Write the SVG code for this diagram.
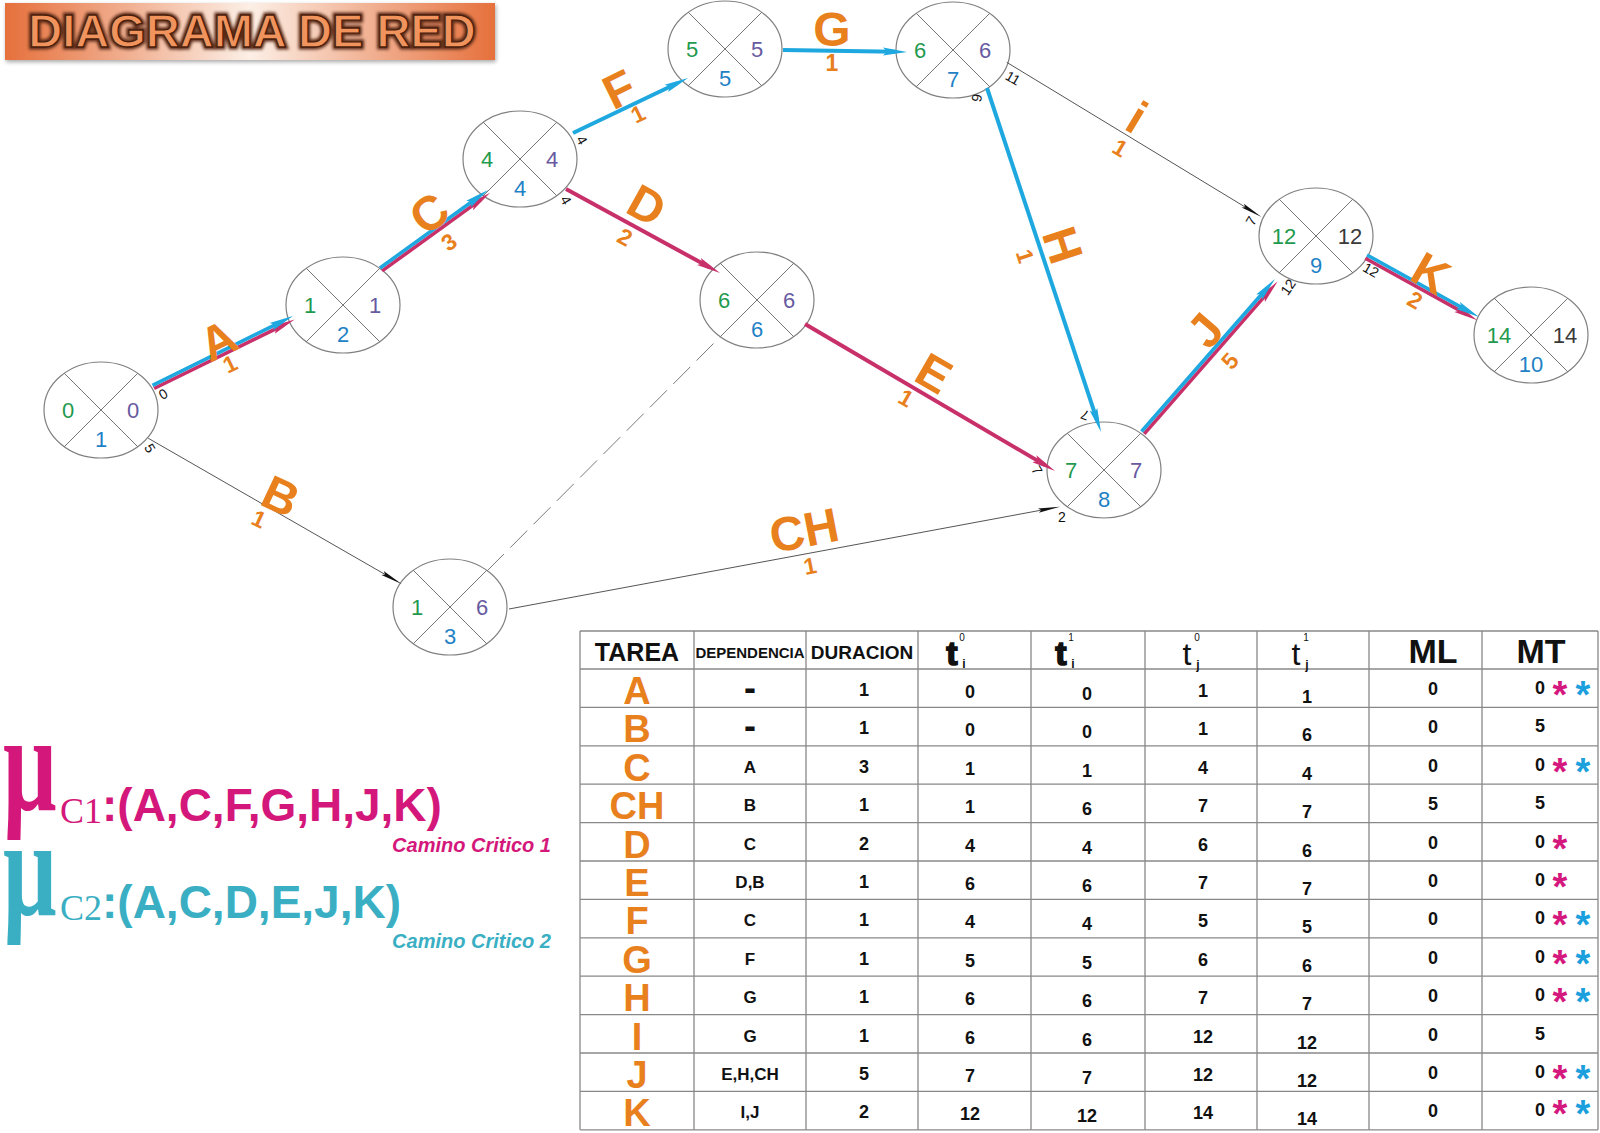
<svg xmlns="http://www.w3.org/2000/svg" width="1600" height="1133" viewBox="0 0 1600 1133">
<defs>
<linearGradient id="bn" x1="0" y1="0" x2="1" y2="0">
<stop offset="0" stop-color="#e6703c"/>
<stop offset="0.5" stop-color="#fcefe6"/>
<stop offset="1" stop-color="#e6703c"/>
</linearGradient>
<filter id="sh" x="-5%" y="-20%" width="110%" height="150%">
<feGaussianBlur in="SourceAlpha" stdDeviation="2"/>
<feOffset dx="1" dy="2" result="o"/>
<feComponentTransfer><feFuncA type="linear" slope="0.35"/></feComponentTransfer>
<feMerge><feMergeNode/><feMergeNode in="SourceGraphic"/></feMerge>
</filter>
<filter id="blur" x="-10%" y="-30%" width="120%" height="160%"><feGaussianBlur stdDeviation="1.6"/></filter>
<marker id="ac" markerUnits="userSpaceOnUse" markerWidth="26" markerHeight="12" refX="12" refY="6" orient="auto" overflow="visible"><path d="M0,2 L24,6 L0,10 L4,6 Z" fill="#1ea8df"/></marker>
<marker id="am" markerUnits="userSpaceOnUse" markerWidth="26" markerHeight="12" refX="12" refY="6" orient="auto" overflow="visible"><path d="M0,2 L24,6 L0,10 L4,6 Z" fill="#c8306a"/></marker>
<marker id="ak" markerUnits="userSpaceOnUse" markerWidth="24" markerHeight="12" refX="12" refY="6" orient="auto" overflow="visible"><path d="M0,3.8 L22,6 L0,8.2 L3,6 Z" fill="#111"/></marker>
</defs>
<style>
text{font-family:"Liberation Sans",Arial,sans-serif}
.nd ellipse{fill:#fff;stroke:#808080;stroke-width:1.2}
.nd line{stroke:#666;stroke-width:0.9}
.nd text{font-size:22px;text-anchor:middle}
.g{fill:#1f9a4e}.p{fill:#675aa0}.b{fill:#1f82c6}.k{fill:#3a3a3a}
.lbl{font-weight:bold;fill:#e8801e;text-anchor:middle}
.L{font-size:48px}.N{font-size:23px}
.sm{font-size:14px;fill:#111;text-anchor:middle}
.cy{stroke:#1ea8df;stroke-width:3.6;fill:none}
.mg{stroke:#c8306a;stroke-width:3.6;fill:none}
.cy1{stroke:#1ea8df;stroke-width:4;fill:none}
.mg1{stroke:#c8306a;stroke-width:4;fill:none}
.thin{stroke:#555;stroke-width:1;fill:none}
.dash{stroke:#7a7a7a;stroke-width:1;stroke-dasharray:24 9;fill:none}
.tl{stroke:#888;stroke-width:1.3}
.th{font-weight:bold;fill:#111;text-anchor:middle}
.thn{font-weight:normal;fill:#111;text-anchor:middle}
.v{font-weight:bold;font-size:18px;fill:#111;text-anchor:middle}
.dp{font-weight:bold;font-size:17px;fill:#111;text-anchor:middle}
.dash-t{font-weight:bold;font-size:36px;fill:#111;text-anchor:middle}
.tk{font-weight:bold;font-size:38px;fill:#e8801e;text-anchor:middle}
.am{font-weight:bold;font-size:38px;fill:#d4187e;text-anchor:middle}
.ac{font-weight:bold;font-size:38px;fill:#1ba0dd;text-anchor:middle}
.ttl{font-weight:bold;font-size:47px;text-anchor:middle}
.mu{font-family:"Liberation Serif","Times New Roman",serif;font-weight:bold;font-size:90px}
.sub{font-family:"Liberation Serif","Times New Roman",serif;font-size:36px}
</style>
<rect width="1600" height="1133" fill="#fff"/>

<g id="title">
<rect x="5" y="3" width="490" height="57" fill="url(#bn)" filter="url(#sh)"/>
<text x="252" y="47" class="ttl" fill="none" stroke="#5b2a12" stroke-width="5" filter="url(#blur)">DIAGRAMA DE RED</text>
<text x="252" y="47" class="ttl" fill="#f0935c" stroke="#4a200c" stroke-width="1.3">DIAGRAMA DE RED</text>
</g>

<g id="n0" class="nd" transform="translate(101,410)"><ellipse rx="57" ry="48"/><line x1="-36.7" y1="-36.7" x2="36.7" y2="36.7"/><line x1="-36.7" y1="36.7" x2="36.7" y2="-36.7"/><text x="-33" y="8" class="g">0</text><text x="32" y="8" class="p">0</text><text x="0" y="37" class="b">1</text></g>
<g id="n1" class="nd" transform="translate(343,305)"><ellipse rx="57" ry="48"/><line x1="-36.7" y1="-36.7" x2="36.7" y2="36.7"/><line x1="-36.7" y1="36.7" x2="36.7" y2="-36.7"/><text x="-33" y="8" class="g">1</text><text x="32" y="8" class="p">1</text><text x="0" y="37" class="b">2</text></g>
<g id="n2" class="nd" transform="translate(520,159)"><ellipse rx="57" ry="48"/><line x1="-36.7" y1="-36.7" x2="36.7" y2="36.7"/><line x1="-36.7" y1="36.7" x2="36.7" y2="-36.7"/><text x="-33" y="8" class="g">4</text><text x="32" y="8" class="p">4</text><text x="0" y="37" class="b">4</text></g>
<g id="n3" class="nd" transform="translate(725,49)"><ellipse rx="57" ry="48"/><line x1="-36.7" y1="-36.7" x2="36.7" y2="36.7"/><line x1="-36.7" y1="36.7" x2="36.7" y2="-36.7"/><text x="-33" y="8" class="g">5</text><text x="32" y="8" class="p">5</text><text x="0" y="37" class="b">5</text></g>
<g id="n4" class="nd" transform="translate(953,50)"><ellipse rx="57" ry="48"/><line x1="-36.7" y1="-36.7" x2="36.7" y2="36.7"/><line x1="-36.7" y1="36.7" x2="36.7" y2="-36.7"/><text x="-33" y="8" class="g">6</text><text x="32" y="8" class="p">6</text><text x="0" y="37" class="b">7</text></g>
<g id="n5" class="nd" transform="translate(757,300)"><ellipse rx="57" ry="48"/><line x1="-36.7" y1="-36.7" x2="36.7" y2="36.7"/><line x1="-36.7" y1="36.7" x2="36.7" y2="-36.7"/><text x="-33" y="8" class="g">6</text><text x="32" y="8" class="p">6</text><text x="0" y="37" class="b">6</text></g>
<g id="n6" class="nd" transform="translate(450,607)"><ellipse rx="57" ry="48"/><line x1="-36.7" y1="-36.7" x2="36.7" y2="36.7"/><line x1="-36.7" y1="36.7" x2="36.7" y2="-36.7"/><text x="-33" y="8" class="g">1</text><text x="32" y="8" class="p">6</text><text x="0" y="37" class="b">3</text></g>
<g id="n7" class="nd" transform="translate(1104,470)"><ellipse rx="57" ry="48"/><line x1="-36.7" y1="-36.7" x2="36.7" y2="36.7"/><line x1="-36.7" y1="36.7" x2="36.7" y2="-36.7"/><text x="-33" y="8" class="g">7</text><text x="32" y="8" class="p">7</text><text x="0" y="37" class="b">8</text></g>
<g id="n8" class="nd" transform="translate(1316,236)"><ellipse rx="57" ry="48"/><line x1="-36.7" y1="-36.7" x2="36.7" y2="36.7"/><line x1="-36.7" y1="36.7" x2="36.7" y2="-36.7"/><text x="-32" y="8" class="g">12</text><text x="34" y="8" class="k">12</text><text x="0" y="37" class="b">9</text></g>
<g id="n9" class="nd" transform="translate(1531,335)"><ellipse rx="57" ry="48"/><line x1="-36.7" y1="-36.7" x2="36.7" y2="36.7"/><line x1="-36.7" y1="36.7" x2="36.7" y2="-36.7"/><text x="-32" y="8" class="g">14</text><text x="34" y="8" class="k">14</text><text x="0" y="37" class="b">10</text></g>

<g id="connectors">
<line class="dash" x1="487" y1="571" x2="720" y2="337"/>
<line class="thin" x1="148.3" y1="438.3" x2="393" y2="579" marker-end="url(#ak)"/>
<line class="thin" x1="1006.7" y1="62.3" x2="1253" y2="211.8" marker-end="url(#ak)"/>
<line class="thin" x1="509" y1="609" x2="1050.2" y2="508.5" marker-end="url(#ak)"/>
<line class="mg" x1="154.1" y1="388.5" x2="283.8" y2="324.8" marker-end="url(#am)"/>
<line class="cy" x1="152.5" y1="385.3" x2="282.2" y2="321.3" marker-end="url(#ac)"/>
<line class="mg" x1="382.1" y1="270.9" x2="480.4" y2="199.9" marker-end="url(#am)"/>
<line class="cy" x1="380" y1="268" x2="478.3" y2="197" marker-end="url(#ac)"/>
<line class="mg1" x1="566" y1="189" x2="709.5" y2="267.3" marker-end="url(#am)"/>
<line class="cy1" x1="573" y1="133" x2="677.2" y2="83.2" marker-end="url(#ac)"/>
<line class="cy1" x1="783" y1="50" x2="895" y2="51.8" marker-end="url(#ac)"/>
<line class="cy1" x1="987" y1="88" x2="1097.2" y2="420.6" marker-end="url(#ac)"/>
<line class="mg1" x1="805" y1="324" x2="1044.7" y2="464.9" marker-end="url(#am)"/>
<line class="mg" x1="1144.2" y1="433.9" x2="1269.8" y2="290.4" marker-end="url(#am)"/>
<line class="cy" x1="1141.5" y1="431.5" x2="1267.1" y2="288" marker-end="url(#ac)"/>
<line class="mg" x1="1365.3" y1="258.2" x2="1466.8" y2="314.4" marker-end="url(#am)"/>
<line class="cy" x1="1367" y1="255" x2="1468.5" y2="311.2" marker-end="url(#ac)"/>

<g id="edge-labels">
<g transform="translate(218,340) rotate(-26)"><text class="lbl L" y="17">A</text></g>
<g transform="translate(230,364) rotate(-26)"><text class="lbl N" y="8">1</text></g>
<g transform="translate(281,496) rotate(25)"><text class="lbl L" y="17">B</text></g>
<g transform="translate(259,519) rotate(25)"><text class="lbl N" y="8">1</text></g>
<g transform="translate(429,213) rotate(-36)"><text class="lbl L" y="17">C</text></g>
<g transform="translate(449,242) rotate(-36)"><text class="lbl N" y="8">3</text></g>
<g transform="translate(647,205) rotate(29)"><text class="lbl L" y="17">D</text></g>
<g transform="translate(625,237) rotate(29)"><text class="lbl N" y="8">2</text></g>
<g transform="translate(934,373) rotate(30)"><text class="lbl L" y="17">E</text></g>
<g transform="translate(906,398) rotate(30)"><text class="lbl N" y="8">1</text></g>
<g transform="translate(619,89) rotate(-26)"><text class="lbl L" y="17">F</text></g>
<g transform="translate(638,114) rotate(-26)"><text class="lbl N" y="8">1</text></g>
<g transform="translate(832,29)"><text class="lbl L" y="17">G</text></g>
<g transform="translate(832,63)"><text class="lbl N" y="8">1</text></g>
<g transform="translate(1063,245) rotate(72)"><text class="lbl L" y="17">H</text></g>
<g transform="translate(1025,256) rotate(72)"><text class="lbl N" y="8">1</text></g>
<g transform="translate(1137,117) rotate(31)"><text class="lbl L" y="17">i</text></g>
<g transform="translate(1120,148) rotate(31)"><text class="lbl N" y="8">1</text></g>
<g transform="translate(1205,330) rotate(-49)"><text class="lbl L" y="17">J</text></g>
<g transform="translate(1230,361) rotate(-49)"><text class="lbl N" y="8">5</text></g>
<g transform="translate(1431,273) rotate(30)"><text class="lbl L" y="17">K</text></g>
<g transform="translate(1415,300) rotate(30)"><text class="lbl N" y="8">2</text></g>
<g transform="translate(804,530) rotate(-11)"><text class="lbl L" y="17">CH</text></g>
<g transform="translate(810,566) rotate(-11)"><text class="lbl N" y="8">1</text></g>
</g>
<g id="time-marks">
<g transform="translate(163,394) rotate(-30)"><text class="sm" y="5">0</text></g>
<g transform="translate(150,448) rotate(60)"><text class="sm" y="5">5</text></g>
<g transform="translate(582,140) rotate(60)"><text class="sm" y="5">4</text></g>
<g transform="translate(566,200) rotate(60)"><text class="sm" y="5">4</text></g>
<g transform="translate(1013,78) rotate(30)"><text class="sm" y="5">11</text></g>
<g transform="translate(977,98) rotate(100)"><text class="sm" y="5">6</text></g>
<g transform="translate(1251,221) rotate(-60)"><text class="sm" y="5">7</text></g>
<g transform="translate(1288,287) rotate(-55)"><text class="sm" y="5">12</text></g>
<g transform="translate(1371,270) rotate(30)"><text class="sm" y="5">12</text></g>
<g transform="translate(1085,415) rotate(200)"><text class="sm" y="5">7</text></g>
<g transform="translate(1037,470) rotate(60)"><text class="sm" y="5">7</text></g>
<g transform="translate(1062,517)"><text class="sm" y="5">2</text></g>
</g>
</g>

<g id="legend">
<text class="mu" transform="translate(3,810) scale(1.05,1.55)" fill="#d4177a">μ</text>
<text class="sub" x="60" y="823" fill="#d4177a">C1</text>
<text x="102" y="821" font-weight="bold" font-size="46" fill="#d4177a">:(A,C,F,G,H,J,K)</text>
<text x="551" y="852" font-weight="bold" font-style="italic" font-size="20" fill="#d4177a" text-anchor="end">Camino Critico 1</text>
<text class="mu" transform="translate(3,915) scale(1.05,1.55)" fill="#3aafc3">μ</text>
<text class="sub" x="60" y="920" fill="#3aafc3">C2</text>
<text x="102" y="918" font-weight="bold" font-size="46" fill="#3aafc3">:(A,C,D,E,J,K)</text>
<text x="551" y="948" font-weight="bold" font-style="italic" font-size="20" fill="#3aafc3" text-anchor="end">Camino Critico 2</text>
</g>

<g id="table">
<g class="tl">
<line x1="580" y1="631" x2="1598" y2="631"/>
<line x1="580" y1="669" x2="1598" y2="669"/>
<line x1="580" y1="707.4" x2="1598" y2="707.4"/>
<line x1="580" y1="745.8" x2="1598" y2="745.8"/>
<line x1="580" y1="784.2" x2="1598" y2="784.2"/>
<line x1="580" y1="822.6" x2="1598" y2="822.6"/>
<line x1="580" y1="861" x2="1598" y2="861"/>
<line x1="580" y1="899.4" x2="1598" y2="899.4"/>
<line x1="580" y1="937.8" x2="1598" y2="937.8"/>
<line x1="580" y1="976.2" x2="1598" y2="976.2"/>
<line x1="580" y1="1014.6" x2="1598" y2="1014.6"/>
<line x1="580" y1="1053" x2="1598" y2="1053"/>
<line x1="580" y1="1091.4" x2="1598" y2="1091.4"/>
<line x1="580" y1="1129.8" x2="1598" y2="1129.8"/>
<line x1="580" y1="631" x2="580" y2="1129.8"/>
<line x1="694" y1="631" x2="694" y2="1129.8"/>
<line x1="806" y1="631" x2="806" y2="1129.8"/>
<line x1="918" y1="631" x2="918" y2="1129.8"/>
<line x1="1031" y1="631" x2="1031" y2="1129.8"/>
<line x1="1145" y1="631" x2="1145" y2="1129.8"/>
<line x1="1257" y1="631" x2="1257" y2="1129.8"/>
<line x1="1369" y1="631" x2="1369" y2="1129.8"/>
<line x1="1482" y1="631" x2="1482" y2="1129.8"/>
<line x1="1598" y1="631" x2="1598" y2="1129.8"/>
</g>
<g id="header">
<text class="th" x="637" y="661" font-size="25">TAREA</text>
<text class="th" x="750" y="658" font-size="15">DEPENDENCIA</text>
<text class="th" x="862" y="659" font-size="19">DURACION</text>
<text class="th" x="952" y="665" font-size="34" stroke="#111" stroke-width="1.6">t</text>
<text class="thn" x="962" y="641" font-size="10">0</text>
<text class="th" x="964" y="668" font-size="12">i</text>
<text class="th" x="1061" y="665" font-size="34" stroke="#111" stroke-width="1.6">t</text>
<text class="thn" x="1071" y="641" font-size="10">1</text>
<text class="th" x="1073" y="668" font-size="12">i</text>
<text class="thn" x="1187" y="665" font-size="32">t</text>
<text class="thn" x="1197" y="641" font-size="10">0</text>
<text class="th" x="1198" y="669" font-size="12">j</text>
<text class="thn" x="1296" y="665" font-size="32">t</text>
<text class="thn" x="1306" y="641" font-size="10">1</text>
<text class="th" x="1307" y="669" font-size="12">j</text>
<text class="th" x="1433" y="663" font-size="34">ML</text>
<text class="th" x="1541" y="663" font-size="34">MT</text>
</g>
<g id="row-A" transform="translate(0,669)"><text class="tk" x="637" y="35">A</text><text class="dash-t" x="750" y="31">-</text><text class="v" x="864" y="27">1</text><text class="v" x="970" y="29">0</text><text class="v" x="1087" y="31">0</text><text class="v" x="1203" y="28">1</text><text class="v" x="1307" y="34">1</text><text class="v" x="1433" y="26">0</text><text class="v" x="1540" y="25">0</text><text class="am" x="1560" y="39">*</text><text class="ac" x="1583" y="39">*</text></g>
<g id="row-B" transform="translate(0,707.4)"><text class="tk" x="637" y="35">B</text><text class="dash-t" x="750" y="31">-</text><text class="v" x="864" y="27">1</text><text class="v" x="970" y="29">0</text><text class="v" x="1087" y="31">0</text><text class="v" x="1203" y="28">1</text><text class="v" x="1307" y="34">6</text><text class="v" x="1433" y="26">0</text><text class="v" x="1540" y="25">5</text></g>
<g id="row-C" transform="translate(0,745.8)"><text class="tk" x="637" y="35">C</text><text class="dp" x="750" y="27">A</text><text class="v" x="864" y="27">3</text><text class="v" x="970" y="29">1</text><text class="v" x="1087" y="31">1</text><text class="v" x="1203" y="28">4</text><text class="v" x="1307" y="34">4</text><text class="v" x="1433" y="26">0</text><text class="v" x="1540" y="25">0</text><text class="am" x="1560" y="39">*</text><text class="ac" x="1583" y="39">*</text></g>
<g id="row-CH" transform="translate(0,784.2)"><text class="tk" x="637" y="35">CH</text><text class="dp" x="750" y="27">B</text><text class="v" x="864" y="27">1</text><text class="v" x="970" y="29">1</text><text class="v" x="1087" y="31">6</text><text class="v" x="1203" y="28">7</text><text class="v" x="1307" y="34">7</text><text class="v" x="1433" y="26">5</text><text class="v" x="1540" y="25">5</text></g>
<g id="row-D" transform="translate(0,822.6)"><text class="tk" x="637" y="35">D</text><text class="dp" x="750" y="27">C</text><text class="v" x="864" y="27">2</text><text class="v" x="970" y="29">4</text><text class="v" x="1087" y="31">4</text><text class="v" x="1203" y="28">6</text><text class="v" x="1307" y="34">6</text><text class="v" x="1433" y="26">0</text><text class="v" x="1540" y="25">0</text><text class="am" x="1560" y="39">*</text></g>
<g id="row-E" transform="translate(0,861)"><text class="tk" x="637" y="35">E</text><text class="dp" x="750" y="27">D,B</text><text class="v" x="864" y="27">1</text><text class="v" x="970" y="29">6</text><text class="v" x="1087" y="31">6</text><text class="v" x="1203" y="28">7</text><text class="v" x="1307" y="34">7</text><text class="v" x="1433" y="26">0</text><text class="v" x="1540" y="25">0</text><text class="am" x="1560" y="39">*</text></g>
<g id="row-F" transform="translate(0,899.4)"><text class="tk" x="637" y="35">F</text><text class="dp" x="750" y="27">C</text><text class="v" x="864" y="27">1</text><text class="v" x="970" y="29">4</text><text class="v" x="1087" y="31">4</text><text class="v" x="1203" y="28">5</text><text class="v" x="1307" y="34">5</text><text class="v" x="1433" y="26">0</text><text class="v" x="1540" y="25">0</text><text class="am" x="1560" y="39">*</text><text class="ac" x="1583" y="39">*</text></g>
<g id="row-G" transform="translate(0,937.8)"><text class="tk" x="637" y="35">G</text><text class="dp" x="750" y="27">F</text><text class="v" x="864" y="27">1</text><text class="v" x="970" y="29">5</text><text class="v" x="1087" y="31">5</text><text class="v" x="1203" y="28">6</text><text class="v" x="1307" y="34">6</text><text class="v" x="1433" y="26">0</text><text class="v" x="1540" y="25">0</text><text class="am" x="1560" y="39">*</text><text class="ac" x="1583" y="39">*</text></g>
<g id="row-H" transform="translate(0,976.2)"><text class="tk" x="637" y="35">H</text><text class="dp" x="750" y="27">G</text><text class="v" x="864" y="27">1</text><text class="v" x="970" y="29">6</text><text class="v" x="1087" y="31">6</text><text class="v" x="1203" y="28">7</text><text class="v" x="1307" y="34">7</text><text class="v" x="1433" y="26">0</text><text class="v" x="1540" y="25">0</text><text class="am" x="1560" y="39">*</text><text class="ac" x="1583" y="39">*</text></g>
<g id="row-I" transform="translate(0,1014.6)"><text class="tk" x="637" y="35">I</text><text class="dp" x="750" y="27">G</text><text class="v" x="864" y="27">1</text><text class="v" x="970" y="29">6</text><text class="v" x="1087" y="31">6</text><text class="v" x="1203" y="28">12</text><text class="v" x="1307" y="34">12</text><text class="v" x="1433" y="26">0</text><text class="v" x="1540" y="25">5</text></g>
<g id="row-J" transform="translate(0,1053)"><text class="tk" x="637" y="35">J</text><text class="dp" x="750" y="27">E,H,CH</text><text class="v" x="864" y="27">5</text><text class="v" x="970" y="29">7</text><text class="v" x="1087" y="31">7</text><text class="v" x="1203" y="28">12</text><text class="v" x="1307" y="34">12</text><text class="v" x="1433" y="26">0</text><text class="v" x="1540" y="25">0</text><text class="am" x="1560" y="39">*</text><text class="ac" x="1583" y="39">*</text></g>
<g id="row-K" transform="translate(0,1091.4)"><text class="tk" x="637" y="35">K</text><text class="dp" x="750" y="27">I,J</text><text class="v" x="864" y="27">2</text><text class="v" x="970" y="29">12</text><text class="v" x="1087" y="31">12</text><text class="v" x="1203" y="28">14</text><text class="v" x="1307" y="34">14</text><text class="v" x="1433" y="26">0</text><text class="v" x="1540" y="25">0</text><text class="am" x="1560" y="36">*</text><text class="ac" x="1583" y="36">*</text></g>
</g>
</svg>
